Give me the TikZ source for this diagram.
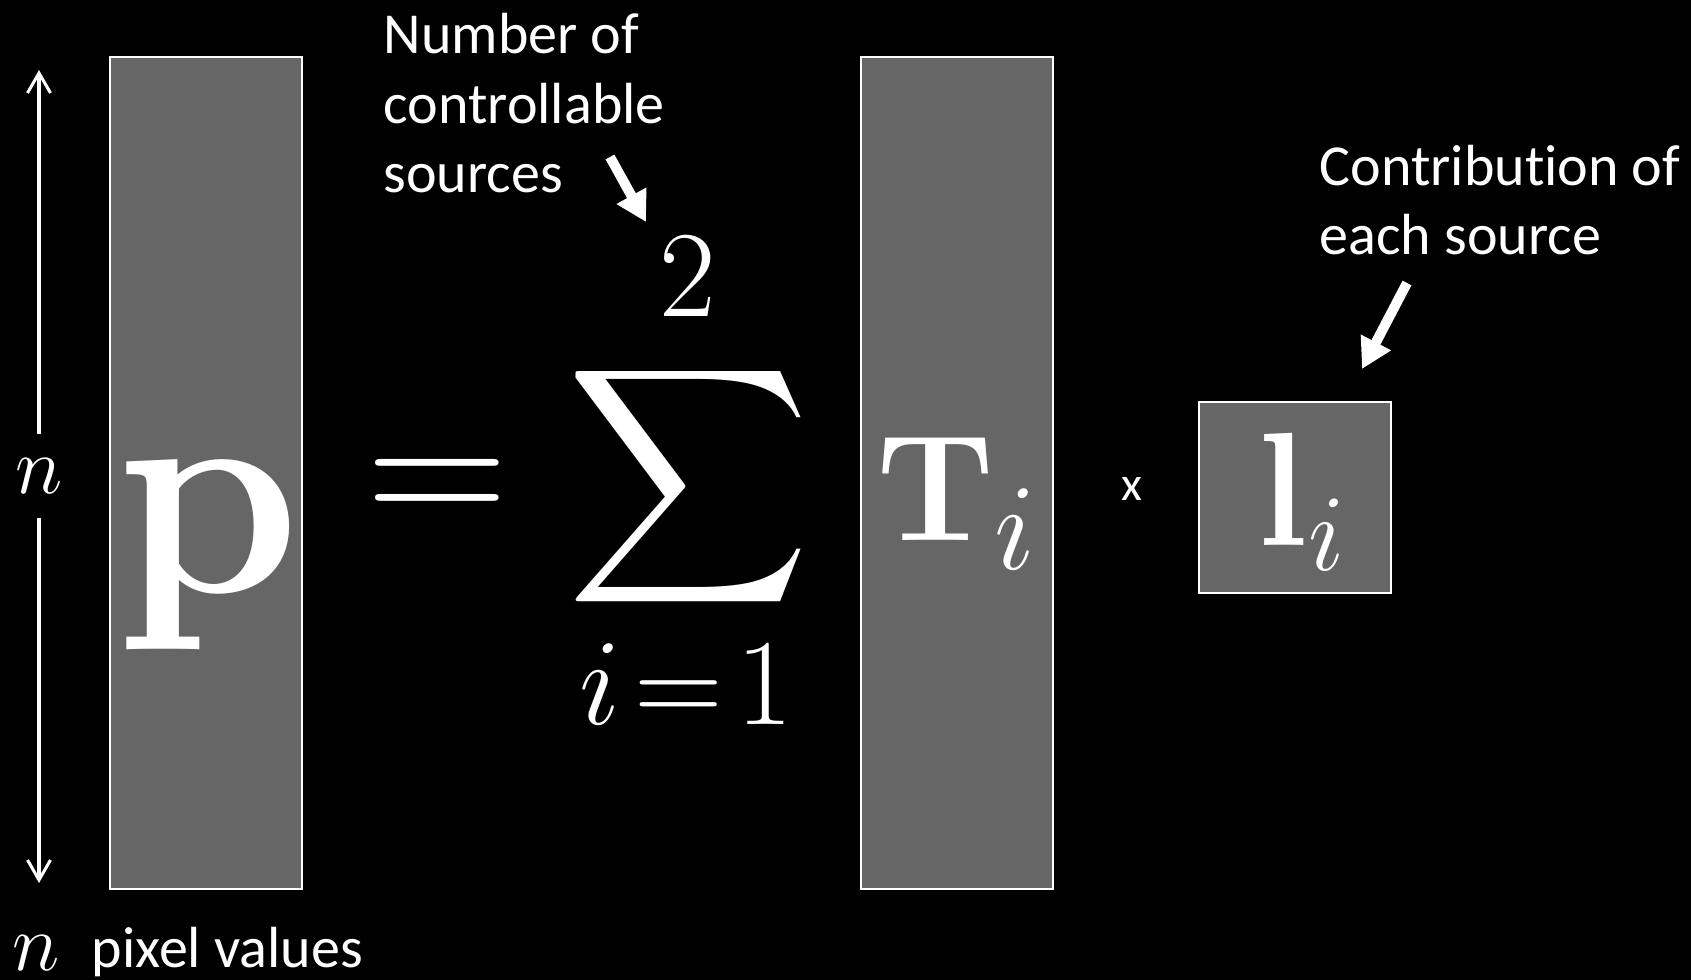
\RequirePackage{fix-cm}
\documentclass[tikz,border=0pt]{standalone}
\usepackage{amsmath}
\usepackage[no-math]{fontspec}
\newfontfamily\calibri[Ligatures=NoCommon]{Carlito}
\usetikzlibrary{arrows.meta}
\DeclareMathSizes{43}{43}{35}{25}
\DeclareMathSizes{46}{46}{31}{22}
\definecolor{panelgray}{RGB}{102,102,102}
\tikzset{
  panel/.style={fill=panelgray,draw=white,line width=0.025cm},
  note/.style={text=white,font=\calibri\fontsize{16.5}{19.9}\selectfont,align=left,inner sep=0pt},
  sym/.style={text=white,inner sep=0pt},
  fatarrow/.style={draw=white,line width=0.1cm,-{Triangle[width=0.32cm,length=0.3cm]}},
  dimarrow/.style={draw=white,line width=0.03cm,-{Straight Barb[width=0.23cm,length=0.2cm]}}
}

\begin{document}
\begin{tikzpicture}[x=0.01cm,y=-0.01cm]
\useasboundingbox (0,0) rectangle (1691,980);
\fill[black] (0,0) rectangle (1691,980);

% the three blocks
\filldraw[panel] (110,57) rectangle (302,889);
\filldraw[panel] (861,57) rectangle (1053,889);
\filldraw[panel] (1199,402) rectangle (1391,593);

% equation
\node[sym,anchor=base,font=\fontsize{84}{90}\selectfont] (pvec) at (209,593) {$\mathbf{p}$};
\node[sym,anchor=base,font=\fontsize{56}{60}\selectfont] (eq) at (437,530) {$=$};
\node[sym] (sum) at (689,487) {\resizebox*{2.44cm}{2.63cm}{$\displaystyle\sum$}};
\node[sym,anchor=base,font=\fontsize{35}{40}\selectfont] (upper) at (688,317) {$2$};
\node[sym,anchor=base,font=\fontsize{35}{40}\selectfont] (lower) at (686,725) {$i\mkern2mu{=}\mkern2mu1$};
\node[sym,anchor=base,font=\fontsize{43}{48}\selectfont] (Tmat) at (957,541) {$\mathbf{T}_i$};
\node[sym,anchor=base,font=\calibri\fontsize{13.7}{16}\selectfont] (times) at (1132,501) {x};
\node[sym,anchor=base,font=\fontsize{46}{50}\selectfont] (lvec) at (1302,546) {$\mathbf{l}_i$};

% height of p
\node[sym,font=\fontsize{23}{26}\selectfont,minimum height=0.83cm] (nleft) at (39,476) {$n$};
\coordinate (ntop) at (39,70);
\coordinate (nbot) at (39,883);
\draw[dimarrow] (nleft.north) -- (ntop);
\draw[dimarrow] (nleft.south) -- (nbot);

\node[sym,anchor=base,font=\fontsize{23}{26}\selectfont] (nbottom) at (36,970) {$n$};
\node[note,anchor=base west] (pixlab) at (91,967) {pixel values};

% remarks
\node[note,anchor=base west] (srclab) at (383,193) {Number of\\controllable\\sources};
\node[note,anchor=base west] (contlab) at (1319,255) {Contribution of\\each source};
\coordinate (srctail) at (610,157);
\coordinate (srchead) at (646,222);
\draw[fatarrow] (srctail) -- (srchead);
\coordinate (conttail) at (1407,283);
\coordinate (conthead) at (1362,369);
\draw[fatarrow] (conttail) -- (conthead);
\end{tikzpicture}
\end{document}
